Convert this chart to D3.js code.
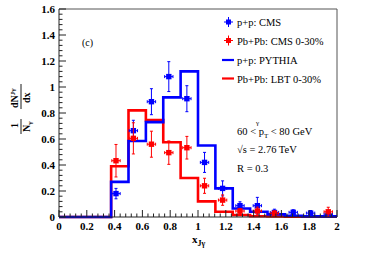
<!DOCTYPE html>
<html>
<head>
<meta charset="utf-8">
<script src="https://cdn.jsdelivr.net/npm/d3@7"></script>
<style>
  body { margin: 0; background: #fff; }
  svg { display: block; }
</style>
</head>
<body>
<div id="chart"></div>
<script>
// histogram bin edges (x_Jgamma)
const edges = [0, 0.375, 0.5, 0.625, 0.75, 0.875, 1.0, 1.125, 1.25, 1.375, 1.5, 1.625, 1.75, 1.875, 2.0];
// PYTHIA p+p
const pythia = [0, 0.27, 0.585, 0.73, 0.92, 1.12, 0.55, 0.22, 0.065, 0.04, 0.02, 0.01, 0.005, 0.005];
// LBT Pb+Pb 0-30%
const lbt = [0, 0.39, 0.82, 0.745, 0.575, 0.3, 0.12, 0.04, 0.015, 0.006, 0.004, 0.003, 0.003, 0.003];

// CMS data points
const ppX = [0.41, 0.535, 0.665, 0.79, 0.92, 1.047, 1.177, 1.302, 1.427, 1.55, 1.685, 1.81, 1.937];
const ppY = [0.18, 0.664, 0.887, 1.08, 0.91, 0.42, 0.22, 0.087, 0.087, 0.035, 0.036, 0.03, 0.022];
const ppErr = [0.04, 0.08, 0.1, 0.115, 0.1, 0.077, 0.058, 0.03, 0.064, 0.025, 0.02, 0.02, 0.015];
const pbX = [0.41, 0.535, 0.665, 0.79, 0.92, 1.047, 1.177, 1.302, 1.427, 1.55, 1.937];
const pbY = [0.433, 0.605, 0.56, 0.495, 0.533, 0.24, 0.13, 0.046, 0.046, 0.028, 0.04];
const pbErr = [0.125, 0.12, 0.1, 0.09, 0.087, 0.058, 0.04, 0.02, 0.03, 0.02, 0.035];
const xErr = 0.03;

const xTicks = [0, 0.2, 0.4, 0.6, 0.8, 1, 1.2, 1.4, 1.6, 1.8, 2];
const yTicks = [0, 0.2, 0.4, 0.6, 0.8, 1, 1.2, 1.4, 1.6];

const width = 365, height = 262;
const margin = {top: 9, right: 28, bottom: 45, left: 59};

const x = d3.scaleLinear().domain([0, 2]).range([margin.left, width - margin.right]);
const y = d3.scaleLinear().domain([0, 1.6]).range([height - margin.bottom, margin.top]);

const svg = d3.select("#chart").append("svg")
  .attr("width", width).attr("height", height)
  .style("font-family", "'Liberation Serif', 'DejaVu Serif', serif");

const BLUE = "#0000ff", RED = "#ff0000";

// frame (top, right)
svg.append("path")
  .attr("d", `M${x(0)},${y(1.6)}H${x(2)}V${y(0)}`)
  .attr("fill", "none").attr("stroke", "#555").attr("stroke-width", 1);

// histograms
const step = d3.line().curve(d3.curveStepAfter).x(d => x(d[0])).y(d => y(d[1]));
function hist(vals, color) {
  const pts = edges.map((e, i) => [e, vals[Math.min(i, vals.length - 1)]]);
  svg.append("path").datum(pts)
    .attr("d", step).attr("fill", "none")
    .attr("stroke", color).attr("stroke-width", 2.6);
}
hist(lbt, RED);
hist(pythia, BLUE);

// data points with error bars
function points(xs, ys, es, color) {
  const g = svg.append("g").attr("stroke", color).attr("stroke-width", 1);
  xs.forEach((xv, i) => {
    const cx = x(xv), cy = y(ys[i]);
    const y1 = y(ys[i] + es[i]), y2 = y(Math.max(0, ys[i] - es[i]));
    const x1 = x(xv - xErr), x2 = x(xv + xErr);
    g.append("line").attr("x1", cx).attr("x2", cx).attr("y1", y1).attr("y2", y2);
    g.append("line").attr("x1", x1).attr("x2", x2).attr("y1", cy).attr("y2", cy);
    g.append("line").attr("x1", cx - 1.5).attr("x2", cx + 1.5).attr("y1", y1).attr("y2", y1);
    g.append("line").attr("x1", cx - 1.5).attr("x2", cx + 1.5).attr("y1", y2).attr("y2", y2);
    g.append("line").attr("x1", x1).attr("x2", x1).attr("y1", cy - 1.5).attr("y2", cy + 1.5);
    g.append("line").attr("x1", x2).attr("x2", x2).attr("y1", cy - 1.5).attr("y2", cy + 1.5);
    g.append("rect").attr("x", cx - 2.7).attr("y", cy - 2.7)
      .attr("width", 5.4).attr("height", 5.4).attr("fill", color).attr("stroke", "none");
  });
}
points(ppX, ppY, ppErr, BLUE);
points(pbX, pbY, pbErr, RED);

// axes with inward ticks
const xAxis = svg.append("g").attr("transform", `translate(0,${y(0)})`);
xAxis.append("line").attr("x1", x(0)).attr("x2", x(2)).attr("stroke", "#222");
xAxis.selectAll(".minor").data(d3.range(0, 2.0001, 0.04)).join("line")
  .attr("x1", d => x(d)).attr("x2", d => x(d))
  .attr("y1", 0).attr("y2", (d, i) => i % 5 === 0 ? -7 : -3.5)
  .attr("stroke", "#222");
xAxis.selectAll("text").data(xTicks).join("text")
  .attr("x", d => x(d)).attr("y", 13)
  .attr("text-anchor", "middle").attr("font-weight", "bold").attr("font-size", 11)
  .text(d => d);

const yAxis = svg.append("g").attr("transform", `translate(${x(0)},0)`);
yAxis.append("line").attr("y1", y(0)).attr("y2", y(1.6)).attr("stroke", "#222");
yAxis.selectAll(".minor").data(d3.range(0, 1.6001, 0.04)).join("line")
  .attr("y1", d => y(d)).attr("y2", d => y(d))
  .attr("x1", 0).attr("x2", (d, i) => i % 5 === 0 ? 7 : 3.5)
  .attr("stroke", "#222");
yAxis.selectAll("text").data(yTicks).join("text")
  .attr("x", -4).attr("y", d => y(d) + 4)
  .attr("text-anchor", "end").attr("font-weight", "bold").attr("font-size", 11)
  .text(d => d);

// axis titles
const xt = svg.append("text").attr("x", 192).attr("y", 243)
  .attr("font-weight", "bold").attr("font-size", 11);
xt.append("tspan").text("x");
xt.append("tspan").attr("dy", 3).attr("font-size", 8).text("Jγ");

const yt = svg.append("g").attr("transform", "translate(21,110) rotate(-90)")
  .attr("font-weight", "bold");
yt.append("line").attr("x1", 1).attr("x2", 26).attr("y1", 0).attr("y2", 0).attr("stroke", "#000").attr("stroke-width", 0.9);
yt.append("line").attr("x1", -24).attr("x2", -9).attr("y1", 0).attr("y2", 0).attr("stroke", "#000").attr("stroke-width", 0.9);
const num = yt.append("text").attr("x", 2).attr("y", -3).attr("font-size", 10);
num.append("tspan").text("dN");
num.append("tspan").attr("dy", -3).attr("font-size", 7).text("Jγ");
yt.append("text").attr("x", 7).attr("y", 9).attr("font-size", 10).text("dx");
yt.append("text").attr("x", -18).attr("y", -3).attr("font-size", 10).text("1");
const den = yt.append("text").attr("x", -22).attr("y", 9).attr("font-size", 10);
den.append("tspan").text("N");
den.append("tspan").attr("dy", 2).attr("font-size", 7).text("γ");

// panel label
svg.append("text").attr("x", 82).attr("y", 46).attr("font-size", 10).text("(c)");

// legend
const legItems = [
  {label: "p+p: CMS", color: BLUE, type: "pt"},
  {label: "Pb+Pb: CMS 0-30%", color: RED, type: "pt"},
  {label: "p+p: PYTHIA", color: BLUE, type: "line"},
  {label: "Pb+Pb: LBT 0-30%", color: RED, type: "line"}
];
const legY = [22, 40.5, 60, 78.5];
const leg = svg.append("g");
legItems.forEach((d, i) => {
  const cy = legY[i];
  if (d.type === "pt") {
    leg.append("line").attr("x1", 224).attr("x2", 233).attr("y1", cy).attr("y2", cy).attr("stroke", d.color);
    leg.append("line").attr("x1", 228.5).attr("x2", 228.5).attr("y1", cy - 5).attr("y2", cy + 5).attr("stroke", d.color);
    leg.append("rect").attr("x", 226).attr("y", cy - 2.5).attr("width", 5).attr("height", 5).attr("fill", d.color);
  } else {
    leg.append("line").attr("x1", 222).attr("x2", 234).attr("y1", cy).attr("y2", cy)
      .attr("stroke", d.color).attr("stroke-width", 2.2);
  }
  leg.append("text").attr("x", 237).attr("y", cy + 4).attr("font-size", 10.5).text(d.label);
});

// kinematics annotation
const ann = svg.append("g").attr("font-size", 10.5);
const t1 = ann.append("text").attr("x", 237).attr("y", 135);
t1.append("tspan").text("60 < p");
t1.append("tspan").attr("dy", 3).attr("font-size", 7).text("T");
t1.append("tspan").attr("dy", -3).text(" < 80 GeV");
ann.append("text").attr("x", 256).attr("y", 125).attr("font-size", 7).text("γ");
ann.append("text").attr("x", 237).attr("y", 153).text("√s = 2.76 TeV");
ann.append("text").attr("x", 237).attr("y", 172).text("R = 0.3");
</script>
</body>
</html>
